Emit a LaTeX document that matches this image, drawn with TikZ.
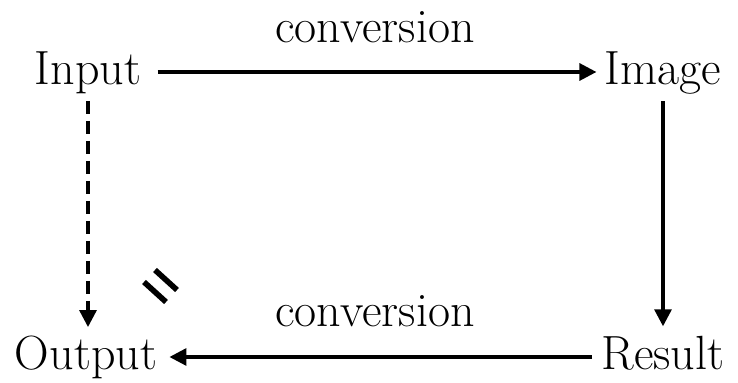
\documentclass[tikz,border=0pt]{standalone}
\usetikzlibrary{arrows.meta}
\begin{document}
\begin{tikzpicture}[x=0.5pt,y=-0.5pt,
  lbl/.style={inner sep=0pt, anchor=base, font=\fontsize{24}{29}\selectfont},
  conn/.style={line width=1.6pt, -{Triangle[length=8.5pt,width=8.5pt]}},
  eqbar/.style={line width=2.8pt}]
\useasboundingbox (0,0) rectangle (738,383);
\node[lbl] (in) at (88,85) {Input};
\node[lbl] (im) at (663,85) {Image};
\node[lbl] (out) at (86,370) {Output};
\node[lbl] (res) at (663,370) {Result};
\node[lbl] (c1) at (375,43) {conversion};
\node[lbl] (c2) at (375,327) {conversion};
\coordinate (eqa1) at (144,282);
\coordinate (eqa2) at (166,302);
\coordinate (eqb1) at (155,270);
\coordinate (eqb2) at (177,290);
\draw[eqbar] (eqa1) -- (eqa2);
\draw[eqbar] (eqb1) -- (eqb2);
\draw[conn] ([shift={(8pt,6.5pt)}]in.base east) -- ([shift={(-4pt,6.5pt)}]im.base west);
\draw[conn] ([yshift=-3pt]im.south) -- ([yshift=5pt]res.north);
\draw[conn] ([shift={(-4.5pt,6.5pt)}]res.base west) -- ([shift={(6pt,6.5pt)}]out.base east);
\draw[conn, dash pattern=on 6.5pt off 3.5pt] ([yshift=-3pt]in.south) -- ([shift={(1pt,4.5pt)}]out.north);
\end{tikzpicture}
\end{document}
